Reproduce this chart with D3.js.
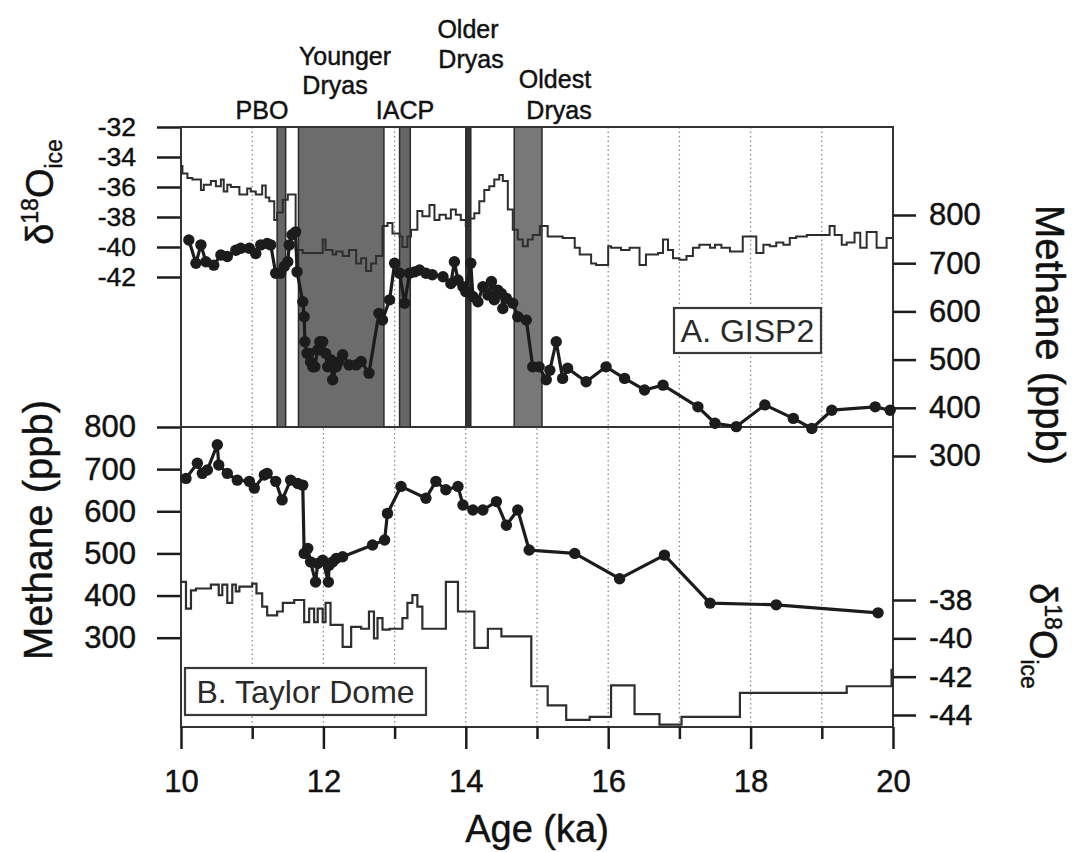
<!DOCTYPE html>
<html>
<head>
<meta charset="utf-8">
<script src="https://cdn.jsdelivr.net/npm/d3@7"></script>
<style>
  body { margin: 0; background: #fff; }
  svg text { font-family: "Liberation Sans", Arial, Helvetica, sans-serif; fill: #111; stroke: #111; stroke-width: 0.45px; }
</style>
</head>
<body>
<svg width="1082" height="852"></svg>
<script>
// ---- data ----
// GISP2 d18O, step series: value holds from each age until the next one
const gispIsoAge = [10.00,10.02,10.09,10.16,10.28,10.32,10.42,10.49,10.56,10.60,10.65,10.70,10.82,10.93,10.98,11.05,11.14,11.19,11.24,11.31,11.35,11.43,11.50,11.61,11.71,11.99,12.03,12.13,12.18,12.27,12.36,12.46,12.53,12.60,12.67,12.74,12.83,12.90,12.97,13.07,13.11,13.18,13.23,13.32,13.39,13.49,13.56,13.63,13.72,13.79,13.86,13.93,14.00,14.05,14.12,14.19,14.26,14.33,14.40,14.47,14.52,14.59,14.66,14.73,14.80,14.87,14.94,15.04,15.15,15.36,15.53,15.60,15.76,15.83,16.00,16.04,16.18,16.30,16.44,16.53,16.70,16.77,16.84,16.91,17.00,17.10,17.19,17.28,17.43,17.50,17.59,17.71,17.89,18.08,18.18,18.27,18.36,18.46,18.55,18.64,18.79,19.11,19.18,19.28,19.35,19.46,19.54,19.63,19.77,19.91];
const gispIso = [-34.6,-35.1,-35.4,-35.5,-36.2,-35.85,-35.6,-35.95,-35.5,-36.3,-35.85,-36.0,-36.5,-36.1,-36.3,-36.5,-35.9,-36.7,-36.95,-38.2,-37.7,-36.85,-36.5,-40.2,-40.4,-39.5,-40.2,-40.5,-40.3,-40.6,-40.2,-41.1,-40.75,-41.6,-41.1,-40.6,-38.6,-38.4,-39.1,-39.3,-40.0,-39.3,-38.85,-37.6,-37.95,-37.2,-38.2,-37.85,-38.1,-37.5,-37.85,-38.2,-38.6,-38.1,-37.75,-36.95,-36.2,-35.95,-35.5,-35.2,-35.6,-37.5,-38.85,-39.5,-39.95,-39.5,-39.2,-38.6,-39.3,-39.4,-40.05,-40.5,-41.1,-41.2,-39.95,-40.05,-40.2,-40.05,-41.2,-40.5,-40.4,-39.5,-40.2,-40.75,-40.85,-40.6,-40.05,-39.85,-40.05,-39.85,-40.05,-40.3,-39.3,-40.4,-39.85,-39.95,-39.7,-39.85,-39.4,-39.3,-39.2,-38.6,-39.2,-39.85,-39.7,-39.05,-40.05,-39.0,-40.05,-39.4];

// GISP2 methane (ppb)
const gispCh4Age = [10.11,10.21,10.28,10.35,10.46,10.56,10.65,10.77,10.84,10.96,11.05,11.12,11.21,11.26,11.33,11.40,11.45,11.50,11.52,11.56,11.61,11.63,11.71,11.73,11.74,11.77,11.80,11.82,11.85,11.88,11.92,11.95,11.99,12.03,12.06,12.10,12.13,12.18,12.21,12.27,12.36,12.46,12.53,12.64,12.78,12.83,12.93,13.00,13.07,13.14,13.21,13.28,13.35,13.44,13.53,13.68,13.79,13.84,13.89,13.96,14.00,14.07,14.10,14.17,14.24,14.31,14.36,14.40,14.45,14.50,14.52,14.57,14.66,14.73,14.85,14.94,15.03,15.13,15.18,15.27,15.36,15.43,15.69,15.97,16.23,16.51,16.77,17.26,17.50,17.80,18.20,18.60,18.86,19.14,19.75,19.96];
const gispCh4 = [748,700,738,703,696,717,714,727,731,731,720,738,741,738,679,679,693,703,738,759,765,682,620,589,537,513,513,495,485,485,520,537,537,513,485,500,458,485,495,510,489,489,496,472,596,582,624,700,679,617,679,682,686,679,676,672,658,703,665,651,641,700,631,620,651,634,662,624,644,637,606,627,617,589,582,485,485,458,478,537,461,482,454,485,461,437,447,402,368,361,406,378,357,395,402,395];

// Taylor Dome methane (ppb)
const tdCh4Age = [10.07,10.23,10.30,10.37,10.51,10.53,10.65,10.79,10.96,11.03,11.17,11.21,11.33,11.42,11.54,11.64,11.71,11.73,11.78,11.82,11.89,11.92,11.99,12.07,12.08,12.13,12.18,12.27,12.69,12.86,12.90,13.09,13.44,13.58,13.72,13.89,13.96,14.10,14.24,14.43,14.57,14.73,14.89,15.53,16.16,16.79,17.43,18.36,19.79];
const tdCh4 = [678,714,690,698,758,710,690,674,671,655,686,690,671,627,674,666,662,500,512,480,432,476,484,432,472,480,488,492,520,532,595,659,631,671,651,659,615,603,603,623,567,603,508,500,440,496,382,378,359];

// Taylor Dome d18O, step series
const tdIsoAge = [10.00,10.07,10.14,10.21,10.42,10.53,10.58,10.65,10.72,10.77,10.82,11.00,11.06,11.14,11.21,11.35,11.43,11.59,11.73,11.80,11.87,11.92,11.99,12.03,12.10,12.27,12.39,12.53,12.64,12.71,12.76,12.83,12.93,13.11,13.18,13.25,13.32,13.39,13.72,13.89,14.12,14.31,14.50,14.92,15.15,15.41,15.74,16.04,16.37,16.72,17.03,17.85,19.35,19.98];
const tdIso = [-37.05,-38.45,-37.5,-37.4,-37.2,-37.75,-37.2,-38.15,-37.2,-37.55,-37.3,-37.15,-37.65,-38.35,-38.8,-38.6,-38.15,-38.0,-39.15,-38.45,-39.15,-38.45,-39.15,-38.15,-39.3,-40.45,-39.4,-39.5,-38.6,-40.0,-38.95,-39.55,-39.5,-38.95,-38.15,-37.75,-38.35,-39.5,-37.05,-38.6,-40.5,-39.5,-39.9,-42.5,-43.5,-44.25,-44.1,-42.45,-43.95,-44.5,-44.1,-42.85,-42.5,-41.65];

// climate events (ka)
const eventNames = ["PBO", "Younger Dryas", "IACP", "Older Dryas", "Oldest Dryas"];
const eventStart = [11.35, 11.65, 13.07, 14.00, 14.68];
const eventEnd = [11.47, 12.85, 13.22, 14.07, 15.07];

// tick values
const ageTicks = [10, 12, 14, 16, 18, 20];
const ageMinor = [11, 13, 15, 17, 19];
const isoTicksA = [-32, -34, -36, -38, -40, -42];
const isoTicksB = [-38, -40, -42, -44];
const ch4Ticks = [800, 700, 600, 500, 400, 300];

(() => {
    const svg = d3.select("svg");
    const plotL = 181, plotR = 893, plotT = 127, plotM = 427, plotB = 727;

    const x = d3.scaleLinear().domain([10, 20]).range([plotL, plotR]);
    const yIsoA = d3.scaleLinear().domain([-32, -52]).range([plotT, plotM]);
    const yCh4A = d3.scaleLinear().domain([800, 300]).range([215, 456]);
    const yCh4B = d3.scaleLinear().domain([800, 300]).range([plotM, 637.7]);
    const yIsoB = d3.scaleLinear().domain([-38, -44]).range([600, 715]);

    const ink = "#1c1c1c";

    // dotted grid lines every 1 ka
    svg.append("g").selectAll("line")
        .data(d3.range(11, 20))
        .join("line")
        .attr("x1", d => x(d)).attr("x2", d => x(d))
        .attr("y1", plotT).attr("y2", plotB)
        .attr("stroke", "#8a8a8a")
        .attr("stroke-width", 1.3)
        .attr("stroke-dasharray", "1.5,3");

    // shaded event bands (upper panel only)
    const bandFill = ["#666", "#6c6c6c", "#666", "#333", "#787878"];
    svg.append("g").selectAll("rect")
        .data(eventNames)
        .join("rect")
        .attr("x", (d, i) => x(eventStart[i]))
        .attr("width", (d, i) => x(eventEnd[i]) - x(eventStart[i]))
        .attr("y", plotT).attr("height", plotM - plotT)
        .attr("fill", (d, i) => bandFill[i])
        .attr("stroke", "#2a2a2a")
        .attr("stroke-width", 1.5);

    // frame
    svg.append("rect")
        .attr("x", plotL).attr("y", plotT)
        .attr("width", plotR - plotL).attr("height", plotB - plotT)
        .attr("fill", "none").attr("stroke", "#333").attr("stroke-width", 2);
    svg.append("line")
        .attr("x1", plotL).attr("x2", plotR).attr("y1", plotM).attr("y2", plotM)
        .attr("stroke", "#333").attr("stroke-width", 2);

    // step helper: add an end point at 20 ka
    const stepPts = (ages, vals) => ages.map((a, i) => [a, vals[i]]).concat([[20, vals[vals.length - 1]]]);

    // GISP2 d18O
    svg.append("path")
        .datum(stepPts(gispIsoAge, gispIso))
        .attr("fill", "none").attr("stroke", "#2e2e2e").attr("stroke-width", 2)
        .attr("d", d3.line().curve(d3.curveStepAfter).x(d => x(d[0])).y(d => yIsoA(d[1])));

    // Taylor Dome d18O
    svg.append("path")
        .datum(stepPts(tdIsoAge, tdIso))
        .attr("fill", "none").attr("stroke", "#2e2e2e").attr("stroke-width", 2.2)
        .attr("d", d3.line().curve(d3.curveStepAfter).x(d => x(d[0])).y(d => yIsoB(d[1])));

    // methane series with dots
    function methane(ages, vals, y) {
        const pts = ages.map((a, i) => [a, vals[i]]);
        svg.append("path")
            .datum(pts)
            .attr("fill", "none").attr("stroke", ink).attr("stroke-width", 3.2)
            .attr("stroke-linejoin", "round")
            .attr("d", d3.line().x(d => x(d[0])).y(d => y(d[1])));
        svg.append("g").selectAll("circle")
            .data(pts)
            .join("circle")
            .attr("cx", d => x(d[0])).attr("cy", d => y(d[1]))
            .attr("r", 5.7).attr("fill", ink);
    }
    methane(gispCh4Age, gispCh4, yCh4A);
    methane(tdCh4Age, tdCh4, yCh4B);

    // panel tags
    function tag(x0, y0, w, h, label) {
        svg.append("rect")
            .attr("x", x0).attr("y", y0).attr("width", w).attr("height", h)
            .attr("fill", "#fff").attr("stroke", "#3a3a3a").attr("stroke-width", 2.2);
        svg.append("text")
            .attr("x", x0 + w / 2).attr("y", y0 + h / 2 + 11.5)
            .attr("text-anchor", "middle")
            .style("font-size", "32px")
            .style("fill", "#2a2a2a")
            .style("stroke", "none")
            .text(label);
    }
    tag(674, 308, 147, 45, "A. GISP2");
    tag(185, 668, 241, 47, "B. Taylor Dome");

    // ---- axes ----
    const fmt = d => String(d);
    const styleAxis = size => g => {
        g.select(".domain").remove();
        g.selectAll(".tick line").attr("stroke", ink).attr("stroke-width", 2.5);
        g.selectAll(".tick text").style("font-size", size + "px").attr("fill", "#111");
    };
    svg.append("g").attr("transform", `translate(${plotL - 1},0)`)
        .call(d3.axisLeft(yIsoA).tickValues(isoTicksA).tickFormat(fmt).tickSize(23).tickPadding(21))
        .call(styleAxis(26.5));
    svg.append("g").attr("transform", `translate(${plotL - 1},0)`)
        .call(d3.axisLeft(yCh4B).tickValues(ch4Ticks).tickFormat(fmt).tickSize(23).tickPadding(21))
        .call(styleAxis(31));
    svg.append("g").attr("transform", `translate(${plotR},0)`)
        .call(d3.axisRight(yCh4A).tickValues(ch4Ticks).tickFormat(fmt).tickSize(23).tickPadding(13))
        .call(styleAxis(31));
    svg.append("g").attr("transform", `translate(${plotR},0)`)
        .call(d3.axisRight(yIsoB).tickValues(isoTicksB).tickFormat(fmt).tickSize(23).tickPadding(13))
        .call(styleAxis(30));
    svg.append("g").attr("transform", `translate(0,${plotB})`)
        .call(d3.axisBottom(x).tickValues(ageTicks).tickFormat(fmt).tickSize(22).tickPadding(21))
        .call(styleAxis(31));
    svg.append("g").attr("transform", `translate(0,${plotB})`)
        .call(d3.axisBottom(x).tickValues(ageMinor).tickFormat("").tickSize(12))
        .call(styleAxis(31));

    // ---- titles ----
    svg.append("text")
        .attr("x", (plotL + plotR) / 2).attr("y", 842)
        .attr("text-anchor", "middle")
        .style("font-size", "38px")
        .text("Age (ka)");

    function methaneTitle(cx, cy, rot) {
        svg.append("text")
            .attr("transform", `translate(${cx},${cy}) rotate(${rot})`)
            .attr("text-anchor", "middle")
            .attr("dy", "0.35em")
            .style("font-size", "40px")
            .text("Methane (ppb)");
    }
    methaneTitle(38, 530, -90);
    methaneTitle(1050, 335, 90);

    function isoTitle(cx, cy, rot) {
        const t = svg.append("text")
            .attr("transform", `translate(${cx},${cy}) rotate(${rot})`)
            .attr("text-anchor", "middle")
            .style("font-size", "38px");
        t.append("tspan").attr("dy", "0.35em").text("\u03b4");
        t.append("tspan").attr("dy", -15).style("font-size", "23px").text("18");
        t.append("tspan").attr("dy", 15).text("O");
        t.append("tspan").attr("dy", 9).style("font-size", "23px").text("ice");
    }
    isoTitle(40, 192, -90);
    isoTitle(1043, 636, 90);

    // event labels above the upper panel
    const eventLabelLines = [["PBO"], ["Younger", "Dryas"], ["IACP"], ["Older", "Dryas"], ["Oldest", "Dryas"]];
    const eventLabelX = [[262], [345, 335], [405], [468, 471], [555, 559]];
    const eventLabelY = [[119], [65, 94], [119], [38, 68], [88, 119]];
    eventNames.forEach((name, i) => {
        eventLabelLines[i].forEach((line, j) => {
            svg.append("text")
                .attr("x", eventLabelX[i][j]).attr("y", eventLabelY[i][j])
                .attr("text-anchor", "middle")
                .style("font-size", "25px")
                .text(line);
        });
    });
})();
</script>
</body>
</html>
